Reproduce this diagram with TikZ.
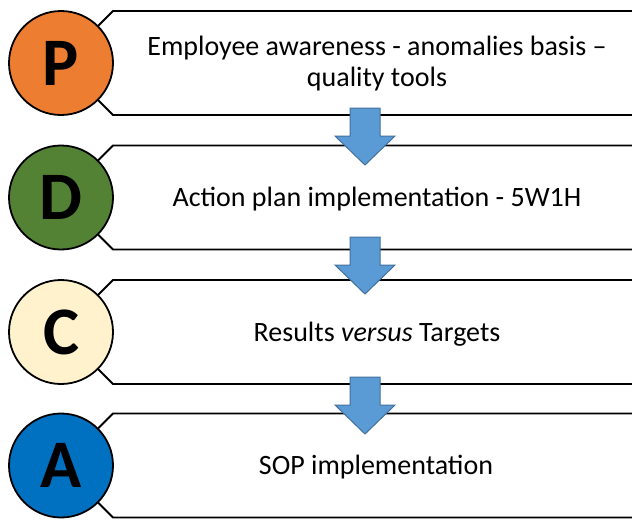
\documentclass[tikz,border=0pt]{standalone}
\usepackage{fontspec}
\setmainfont{Carlito}
\begin{document}
\begin{tikzpicture}[x=1pt,y=-1pt,
  stagebox/.style={draw=black,line width=1.8pt,fill=white,line join=miter},
  letterc/.style={circle,draw=black,line width=1.8pt,minimum size=104pt,inner sep=0pt,
    font=\fontsize{68}{68}\selectfont\bfseries},
  stagetext/.style={align=center,font=\fontsize{28}{31}\selectfont,text=black},
  blockarrow/.style={fill=arrowfill,draw=arrowedge,line width=1pt,line join=miter}]
\definecolor{porange}{HTML}{ED7D31}
\definecolor{dgreen}{HTML}{548235}
\definecolor{ccream}{HTML}{FFF2CC}
\definecolor{ablue}{HTML}{0070C0}
\definecolor{arrowfill}{HTML}{5B9BD5}
\definecolor{arrowedge}{HTML}{41719C}
\clip (0,0) rectangle (632,520);
\fill[white] (0,0) rectangle (632,520);
% boxes
\foreach \cy in {63,197.5,332,465.5}{
  \draw[stagebox] (61,\cy) -- (113,\cy-52) -- (700,\cy-52) -- (700,\cy+52) -- (113,\cy+52) -- cycle;
}
% texts
\node[stagetext] (t1) at (377,64) {Employee awareness - anomalies basis --\\quality tools};
\node[stagetext] (t2) at (377,199.5) {Action plan implementation - 5W1H};
\node[stagetext] (t3) at (377,334) {Results \textit{versus} Targets};
\node[stagetext] (t4) at (376,467.5) {SOP implementation};
% arrows
\foreach \ay in {108,237,377}{
  \draw[blockarrow] (350,\ay) -- (380,\ay) -- (380,\ay+28) -- (395,\ay+28) -- (365,\ay+57)
     -- (335,\ay+28) -- (350,\ay+28) -- cycle;
}
% circles
\node[letterc,fill=porange] (P) at (61,63) {P};
\node[letterc,fill=dgreen] (D) at (61,197.5) {D};
\node[letterc,fill=ccream] (C) at (61,332) {C};
\node[letterc,fill=ablue] (A) at (61,465.5) {A};
\end{tikzpicture}
\end{document}
